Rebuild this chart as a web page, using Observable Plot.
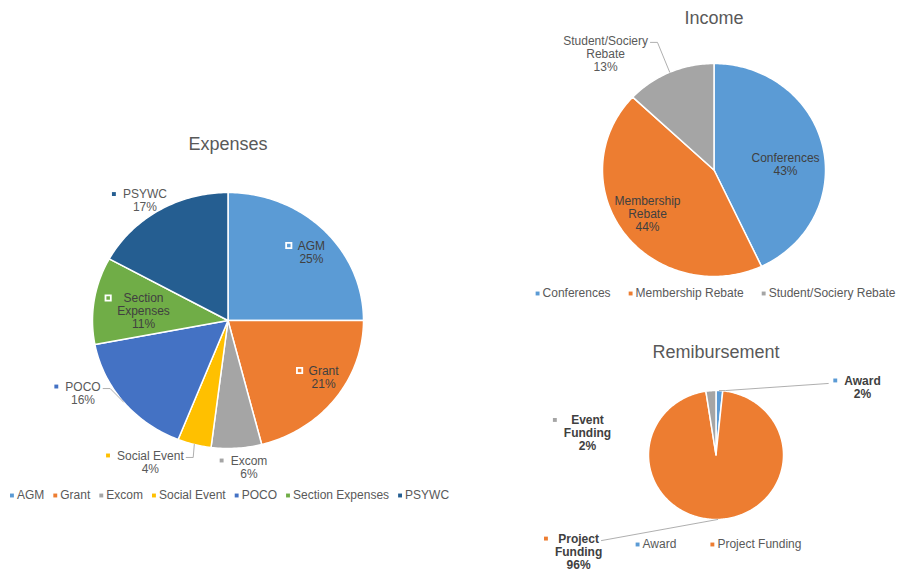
<!DOCTYPE html>
<html>
<head>
<meta charset="utf-8">
<script src="https://cdn.jsdelivr.net/npm/d3@7"></script>
<script src="https://cdn.jsdelivr.net/npm/@observablehq/plot@0.6"></script>
<style>
  html, body { margin: 0; padding: 0; background: #ffffff; }
  #chart { width: 897px; height: 583px; }
</style>
</head>
<body>
<div id="chart"></div>
<script>
// ---------------- DATA ----------------
const expensesTitle = "Expenses";
const expensesCategories = ["AGM", "Grant", "Excom", "Social Event", "POCO", "Section Expenses", "PSYWC"];
const expensesValues = [25, 21, 6, 4, 16, 11, 17];
const expensesColors = ["#5B9BD5", "#ED7D31", "#A5A5A5", "#FFC000", "#4472C4", "#70AD47", "#255E91"];
const expensesLabelNames = ["AGM", "Grant", "Excom", "Social Event", "POCO", "Section\nExpenses", "PSYWC"];

const incomeTitle = "Income";
const incomeCategories = ["Conferences", "Membership Rebate", "Student/Sociery Rebate"];
const incomeValues = [43, 44, 13];
const incomeColors = ["#5B9BD5", "#ED7D31", "#A5A5A5"];
const incomeLabelNames = ["Conferences", "Membership\nRebate", "Student/Sociery\nRebate"];

const reimbursementTitle = "Remibursement";
const reimbursementCategories = ["Award", "Project Funding", "Event Funding"];
const reimbursementValues = [1.6, 96.0, 2.4];
const reimbursementColors = ["#5B9BD5", "#ED7D31", "#A5A5A5"];
const reimbursementLabelNames = ["Award", "Project\nFunding", "Event\nFunding"];
const reimbursementLegendCategories = ["Award", "Project Funding"];

// ---------------- LAYOUT ----------------
const FONT = '"Liberation Sans", Arial, Helvetica, sans-serif';
const W = 897, H = 583;
const LINE = 13;

const layouts = {
  expenses: {
    cx: 227.5, cy: 320, rx: 135.5, ry: 128, titleY: 144,
    legendX: 229, legendY: 495, legendGap: 9,
    labels: [
      { f: 0.816, da: 4, kind: "in" },
      { f: 0.832, da: -5.8, kind: "in" },
      { f: 1.155, da: -4.1, kind: "out" },
      { f: 1.245, da: 13, kind: "out", leader: "elbow" },
      { f: 1.211, da: 11.7, kind: "out", leader: "elbow" },
      { f: 0.628, da: -2.2, kind: "in" },
      { f: 1.12, da: -2.6, kind: "out" }
    ]
  },
  income: {
    cx: 713.5, cy: 169.5, rx: 111.5, ry: 106.5, titleY: 18,
    legendX: 715, legendY: 293, legendGap: 18,
    labels: [
      { f: 0.644, da: 7.6, kind: "plainIn" },
      { f: 0.723, da: 1.6, kind: "plainIn" },
      { f: 1.464, da: -18.2, kind: "plainOut", leader: "elbow" }
    ]
  },
  reimbursement: {
    cx: 715.5, cy: 454.5, rx: 67.5, ry: 64.5, titleY: 352,
    legendX: 718, legendY: 544, legendGap: 34,
    labels: [
      { f: 2.413, da: 61.2, kind: "bold", leader: "left" },
      { f: 2.527, da: 55.1, kind: "bold", leader: "straight" },
      { f: 1.934, da: -75.5, kind: "bold" }
    ]
  }
};

const ctx = document.createElement("canvas").getContext("2d");
function textWidth(s, size = 12, weight = "normal") {
  ctx.font = `${weight} ${size}px ${FONT}`;
  return ctx.measureText(s).width;
}

const wedgePts = [], leaderPts = [], labelsNormal = [], labelsBold = [];
const boxMarkers = [], smallMarkers = [], titles = [], legendTexts = [], legendMarkers = [];

function buildChart(name, title, cats, vals, colors, labelNames, legendCats, L) {
  const total = d3.sum(vals);
  const arcs = d3.pie().sort(null).value(d => d)(vals);
  const P = (t, f) => [L.cx + f * L.rx * Math.sin(t), L.cy - f * L.ry * Math.cos(t)];

  arcs.forEach((a, i) => {
    const key = name + "-" + i;
    wedgePts.push({ key, x: L.cx, y: L.cy, color: colors[i] });
    const n = Math.max(2, Math.ceil((a.endAngle - a.startAngle) / (Math.PI / 180)));
    for (let k = 0; k <= n; k++) {
      const t = a.startAngle + (a.endAngle - a.startAngle) * k / n;
      const [x, y] = P(t, 1);
      wedgePts.push({ key, x, y, color: colors[i] });
    }

    // label
    const s = L.labels[i];
    const mid = (a.startAngle + a.endAngle) / 2;
    const [lx, ly] = P(mid + s.da * Math.PI / 180, s.f);
    const pct = Math.round(vals[i] / total * 100) + "%";
    const lines = labelNames[i].split("\n").concat([pct]);
    const weight = s.kind === "bold" ? "bold" : "normal";
    const widths = lines.map(l => textWidth(l, 12, weight));
    const maxW = d3.max(widths);
    const y1 = ly - (lines.length - 1) / 2 * LINE;
    const dark = (s.kind === "in" || s.kind === "plainIn" || s.kind === "bold");
    const rec = { x: lx, y: ly, text: lines.join("\n"), color: dark ? "#404040" : "#595959" };
    (weight === "bold" ? labelsBold : labelsNormal).push(rec);

    const mx = lx - maxW / 2 - 9;
    if (s.kind === "in") boxMarkers.push({ x: mx, y: y1, color: colors[i] });
    else if (s.kind === "out" || s.kind === "bold") smallMarkers.push({ x: mx, y: y1, color: colors[i] });

    if (s.leader) {
      const [ex, ey] = P(mid, 1);
      const lk = key + "-leader";
      if (s.leader === "elbow") {
        const sx = lx + widths[0] / 2 + 2.5, sy = y1 + 2;
        leaderPts.push({ key: lk, x: sx, y: sy });
        leaderPts.push({ key: lk, x: sx + 7, y: sy });
        leaderPts.push({ key: lk, x: ex, y: ey });
      } else if (s.leader === "straight") {
        const sx = lx + widths[0] / 2 + 2.5, sy = y1 + 2;
        leaderPts.push({ key: lk, x: sx, y: sy });
        leaderPts.push({ key: lk, x: ex, y: ey });
      } else if (s.leader === "left") {
        const sx = mx - 7, sy = y1 + 3;
        leaderPts.push({ key: lk, x: sx, y: sy });
        leaderPts.push({ key: lk, x: ex + 6, y: ey });
        leaderPts.push({ key: lk, x: ex, y: ey });
      }
    }
  });

  titles.push({ x: L.cx, y: L.titleY, text: title });

  // legend
  const items = legendCats.map(c => ({ c, w: textWidth(c, 12), color: colors[cats.indexOf(c)] }));
  const totalW = d3.sum(items, d => d.w + 7) + L.legendGap * (items.length - 1);
  let x = L.legendX - totalW / 2;
  items.forEach(it => {
    legendMarkers.push({ x: x + 2, y: L.legendY, color: it.color });
    legendTexts.push({ x: x + 7, y: L.legendY, text: it.c });
    x += it.w + 7 + L.legendGap;
  });
}

buildChart("expenses", expensesTitle, expensesCategories, expensesValues, expensesColors,
  expensesLabelNames, expensesCategories, layouts.expenses);
buildChart("income", incomeTitle, incomeCategories, incomeValues, incomeColors,
  incomeLabelNames, incomeCategories, layouts.income);
buildChart("reimbursement", reimbursementTitle, reimbursementCategories, reimbursementValues, reimbursementColors,
  reimbursementLabelNames, reimbursementLegendCategories, layouts.reimbursement);

const chart = Plot.plot({
  width: W,
  height: H,
  margin: 0,
  x: { type: "linear", domain: [0, W], range: [0, W], axis: null },
  y: { type: "linear", domain: [0, H], range: [0, H], axis: null },
  color: { type: "identity" },
  style: { fontFamily: FONT, background: "#ffffff" },
  marks: [
    Plot.line(wedgePts, { x: "x", y: "y", z: "key", fill: "color", stroke: "#ffffff", strokeWidth: 1.5, curve: "linear-closed", strokeLinejoin: "round" }),
    Plot.line(leaderPts, { x: "x", y: "y", z: "key", stroke: "#a6a6a6", strokeWidth: 0.9 }),
    Plot.text(titles, { x: "x", y: "y", text: "text", fill: "#595959", fontSize: 18, lineAnchor: "middle" }),
    Plot.text(labelsNormal, { x: "x", y: "y", text: "text", fill: "color", fontSize: 12, lineHeight: LINE / 12, lineAnchor: "middle", textAnchor: "middle" }),
    Plot.text(labelsBold, { x: "x", y: "y", text: "text", fill: "color", fontSize: 12, fontWeight: "bold", lineHeight: LINE / 12, lineAnchor: "middle", textAnchor: "middle" }),
    Plot.dot(boxMarkers, { x: "x", y: "y", symbol: "square", r: 3, fill: "color", stroke: "#ffffff", strokeWidth: 1.8 }),
    Plot.dot(smallMarkers, { x: "x", y: "y", symbol: "square", r: 2.2, fill: "color", stroke: "none" }),
    Plot.dot(legendMarkers, { x: "x", y: "y", symbol: "square", r: 2.2, fill: "color", stroke: "none" }),
    Plot.text(legendTexts, { x: "x", y: "y", text: "text", fill: "#595959", fontSize: 12, textAnchor: "start", lineAnchor: "middle" })
  ]
});
document.getElementById("chart").appendChild(chart);
</script>
</body>
</html>
